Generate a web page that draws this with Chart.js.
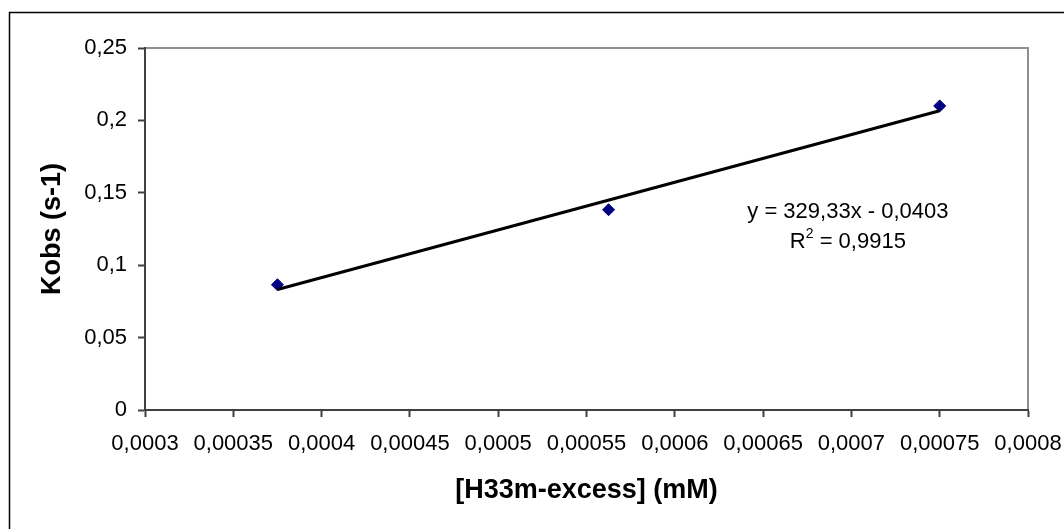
<!DOCTYPE html>
<html>
<head>
<meta charset="utf-8">
<title>Kobs vs [H33m-excess]</title>
<script src="https://cdn.jsdelivr.net/npm/chart.js@4/dist/chart.umd.min.js"></script>
<style>
  html, body { margin: 0; padding: 0; background: #ffffff; }
  #wrap { width: 1064px; height: 529px; position: relative; }
</style>
</head>
<body>
<div id="wrap"><canvas id="chart" width="1064" height="529"></canvas></div>
<script>
// Measured points: excess concentration (mM) and observed rate constant (s-1)
const concentration = [0.000375, 0.0005625, 0.00075];
const kobs = [0.0865, 0.1383, 0.2100];

// Linear fit shown on the chart
const fitSlope = 329.33;
const fitIntercept = -0.0403;
const equationText = 'y = 329,33x - 0,0403';
const rSquaredText = '0,9915';

// Axis ticks (comma decimal separator)
const xTickValues = [0.0003, 0.00035, 0.0004, 0.00045, 0.0005, 0.00055, 0.0006, 0.00065, 0.0007, 0.00075, 0.0008];
const xTickLabels = ['0,0003', '0,00035', '0,0004', '0,00045', '0,0005', '0,00055', '0,0006', '0,00065', '0,0007', '0,00075', '0,0008'];
const yTickValues = [0, 0.05, 0.1, 0.15, 0.2, 0.25];
const yTickLabels = ['0', '0,05', '0,1', '0,15', '0,2', '0,25'];

const FONT = '"Liberation Sans", Arial, Helvetica, sans-serif';

const points = concentration.map((x, i) => ({ x, y: kobs[i] }));
const fitX = [concentration[0], concentration[concentration.length - 1]];
const fitLine = fitX.map(x => ({ x, y: fitSlope * x + fitIntercept }));

// Outer frame and the grey top/right edges of the plot area
const framePlugin = {
  id: 'frame',
  beforeDraw(chart) {
    const { ctx, chartArea: a, width, height } = chart;
    ctx.save();
    ctx.fillStyle = '#ffffff';
    ctx.fillRect(0, 0, width, height);
    ctx.strokeStyle = '#000000';
    ctx.lineWidth = 1.5;
    ctx.beginPath();
    ctx.moveTo(9.5, height + 2);
    ctx.lineTo(9.5, 12.5);
    ctx.lineTo(width + 2, 12.5);
    ctx.stroke();
    ctx.strokeStyle = '#8f8f8f';
    ctx.lineWidth = 2;
    ctx.beginPath();
    ctx.moveTo(a.left, a.top);
    ctx.lineTo(a.right, a.top);
    ctx.lineTo(a.right, a.bottom);
    ctx.stroke();
    ctx.restore();
  }
};

// Fit equation and R² text next to the trend line
const equationPlugin = {
  id: 'equation',
  afterDatasetsDraw(chart) {
    const { ctx, scales } = chart;
    const cx = scales.x.getPixelForValue(0.000698);
    const cy = scales.y.getPixelForValue(0.1368);
    ctx.save();
    ctx.fillStyle = '#000000';
    ctx.textBaseline = 'middle';
    ctx.font = '22px ' + FONT;
    ctx.textAlign = 'center';
    ctx.fillText(equationText, cx, cy);

    const y2 = cy + 30;
    const partR = 'R';
    const partRest = ' = ' + rSquaredText;
    ctx.font = '22px ' + FONT;
    const wR = ctx.measureText(partR).width;
    const wRest = ctx.measureText(partRest).width;
    ctx.font = '14px ' + FONT;
    const wSup = ctx.measureText('2').width;
    const total = wR + wSup + wRest;
    const x0 = cx - total / 2;
    ctx.textAlign = 'left';
    ctx.font = '22px ' + FONT;
    ctx.fillText(partR, x0, y2);
    ctx.font = '14px ' + FONT;
    ctx.fillText('2', x0 + wR, y2 - 8);
    ctx.font = '22px ' + FONT;
    ctx.fillText(partRest, x0 + wR + wSup, y2);
    ctx.restore();
  }
};

new Chart(document.getElementById('chart'), {
  type: 'scatter',
  data: {
    datasets: [
      {
        label: 'Trend',
        type: 'line',
        data: fitLine,
        borderColor: '#000000',
        borderWidth: 3,
        pointRadius: 0,
        fill: false,
        order: 0
      },
      {
        label: 'Kobs',
        data: points,
        pointStyle: 'rectRot',
        pointRadius: 6,
        pointHoverRadius: 6,
        backgroundColor: '#000080',
        borderColor: '#000080',
        borderWidth: 1,
        order: 1
      }
    ]
  },
  options: {
    responsive: false,
    animation: false,
    devicePixelRatio: 1,
    layout: { padding: { left: 0, right: 36, top: 48, bottom: 0 } },
    plugins: {
      legend: { display: false },
      tooltip: { enabled: false },
      title: { display: false }
    },
    scales: {
      x: {
        type: 'linear',
        min: 0.0003,
        max: 0.0008,
        afterBuildTicks(scale) { scale.ticks = xTickValues.map(value => ({ value })); },
        afterFit(scale) {
          scale.height = 119;
          scale.paddingLeft = 0;
          scale.paddingRight = 0;
        },
        ticks: {
          autoSkip: false,
          maxRotation: 0,
          minRotation: 0,
          padding: 14,
          color: '#000000',
          font: { family: FONT, size: 22 },
          callback: (value, index) => xTickLabels[index]
        },
        grid: {
          drawOnChartArea: false,
          drawTicks: true,
          tickLength: 7,
          tickWidth: 2,
          color: '#404040'
        },
        border: { display: true, color: '#404040', width: 2 },
        title: {
          display: true,
          text: '[H33m-excess] (mM)',
          color: '#000000',
          font: { family: FONT, size: 27, weight: 'bold', lineHeight: 1.2 },
          padding: { top: 0, bottom: 22 }
        }
      },
      y: {
        type: 'linear',
        min: 0,
        max: 0.25,
        afterBuildTicks(scale) { scale.ticks = yTickValues.map(value => ({ value })); },
        afterFit(scale) {
          scale.width = 145;
          scale.paddingTop = 0;
          scale.paddingBottom = 0;
        },
        ticks: {
          padding: 11,
          color: '#000000',
          font: { family: FONT, size: 22 },
          callback: (value, index) => yTickLabels[index]
        },
        grid: {
          drawOnChartArea: false,
          drawTicks: true,
          tickLength: 7,
          tickWidth: 2,
          color: '#404040'
        },
        border: { display: true, color: '#404040', width: 2 },
        title: {
          display: true,
          text: 'Kobs (s-1)',
          color: '#000000',
          font: { family: FONT, size: 27, weight: 'bold', lineHeight: 1.2 },
          padding: { top: 36, bottom: 0 }
        }
      }
    }
  },
  plugins: [framePlugin, equationPlugin]
});
</script>
</body>
</html>
